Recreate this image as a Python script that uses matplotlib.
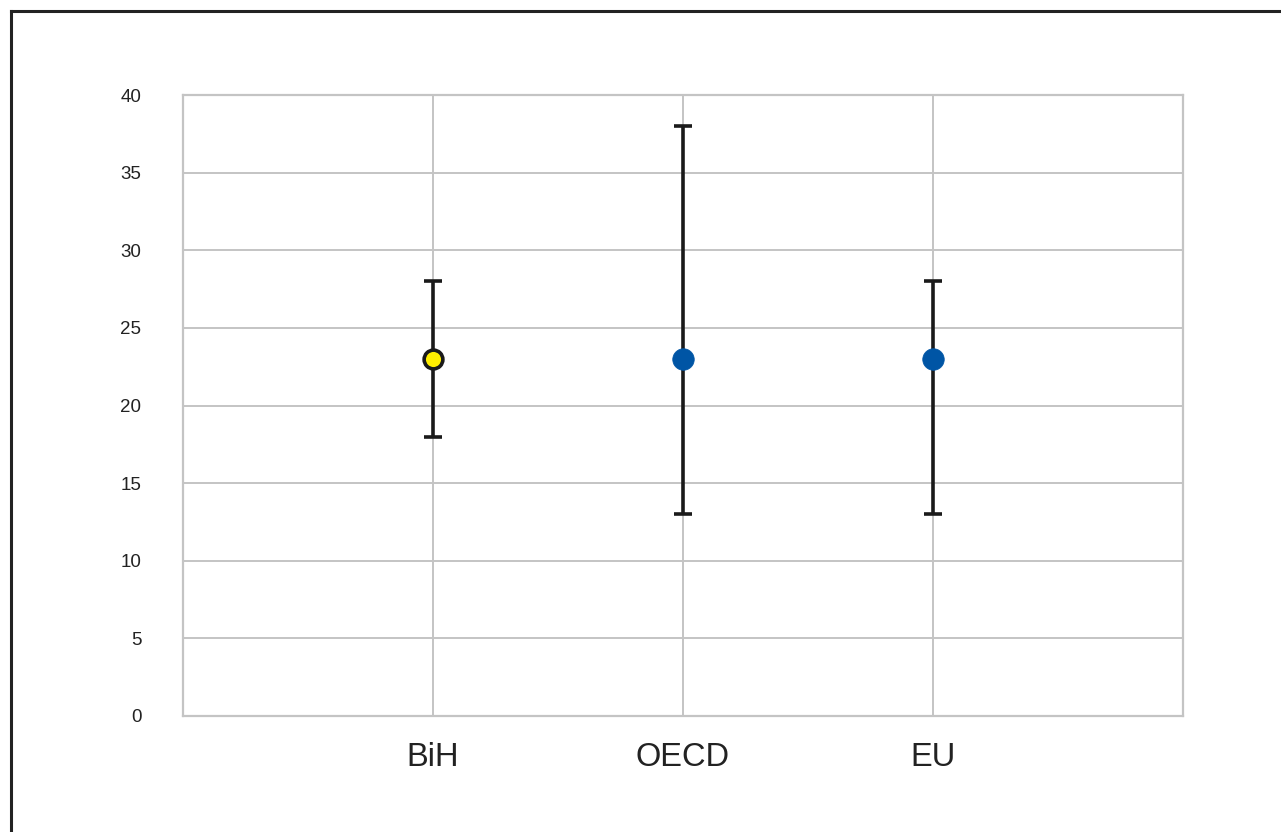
import matplotlib
matplotlib.use("Agg")
import matplotlib.pyplot as plt
from matplotlib.lines import Line2D

categories = ["BiH", "OECD", "EU"]
values = [23, 23, 23]
lower = [18, 13, 13]
upper = [28, 38, 28]
yticks = [0, 5, 10, 15, 20, 25, 30, 35, 40]

plt.rcParams['font.family'] = ['Liberation Sans', 'DejaVu Sans']

fig = plt.figure(figsize=(12.81, 8.32), dpi=100)
ax = fig.add_axes([183/1281, (832-716)/832, 1000/1281, 621/832])

x = list(range(1, len(categories) + 1))
face = ['#ffee00', '#0055a5', '#0055a5']
edge = ['#1a1a1a', '#0055a5', '#0055a5']
for xi, v, lo, hi, fc, ec in zip(x, values, lower, upper, face, edge):
    ax.errorbar([xi], [v], yerr=[[v - lo], [hi - v]], fmt='none', ecolor='#1a1a1a',
                elinewidth=2.6, capsize=6.5, capthick=2.6, zorder=3)
    ax.plot([xi], [v], 'o', markersize=15.5 if fc != '#ffee00' else 13.5,
            markerfacecolor=fc, markeredgecolor=ec,
            markeredgewidth=2.6 if fc == '#ffee00' else 0.5, zorder=4)

ax.set_xlim(0, len(categories) + 1)
ax.set_ylim(0, 40)
ax.set_yticks(yticks)
ax.set_xticks(x)
ax.set_xticklabels(categories, fontsize=23.5, color='#222222')
ax.tick_params(axis='both', length=0)
ax.tick_params(axis='y', labelsize=13.5, pad=30, labelcolor='#222222')
ax.tick_params(axis='x', pad=19)
ax.grid(True, color='#c4c4c4', linewidth=1.4)
ax.set_axisbelow(True)
for s in ax.spines.values():
    s.set_color('#c4c4c4')
    s.set_linewidth(1.6)

# figure border (left and top)
fig.add_artist(Line2D([11/1281, 11/1281], [0, 1 - 11/832], transform=fig.transFigure,
                      color='#222222', linewidth=2.2))
fig.add_artist(Line2D([11/1281, 1], [1 - 11/832, 1 - 11/832], transform=fig.transFigure,
                      color='#222222', linewidth=2.2))

fig.savefig("out.png", dpi=100)
